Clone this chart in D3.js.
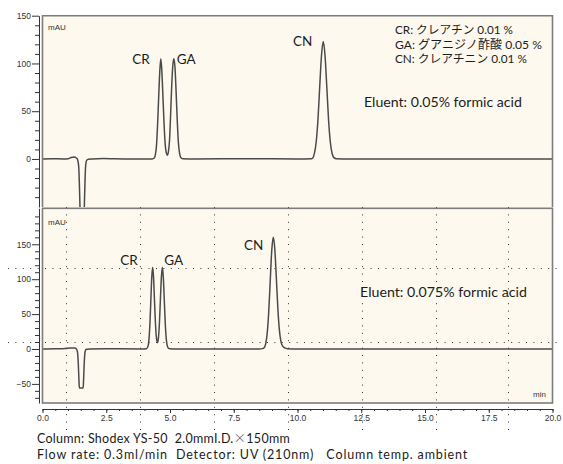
<!doctype html>
<html>
<head>
<meta charset="utf-8">
<script src="https://cdn.jsdelivr.net/npm/d3@7"></script>
<style>
html,body{margin:0;background:#fff;overflow:hidden;}
svg{display:block;}
.axis text{font-family:"Liberation Sans",Arial,sans-serif;font-size:8.5px;fill:#333;}
.axis path,.axis line{stroke:#333;stroke-width:1;}
.lbl{font-family:Lato,"Noto Sans CJK JP",sans-serif;fill:#1c1c1c;}
.small{font-family:"Liberation Sans",Arial,sans-serif;font-size:8px;fill:#333;}
</style>
</head>
<body>
<script>
// chromatogram traces: [time (min), signal (mAU)]
var topTrace = [
  [0,0],[0.4,0.3],[0.8,0],[1.0,0.3],[1.12,1.5],[1.24,2],[1.34,0.8],[1.38,-1],[1.42,-8],[1.45,-30],
  [1.47,-50],[1.5,-85],[1.53,-100],[1.58,-100],[1.61,-85],[1.64,-50],[1.66,-30],[1.69,-8],[1.73,-1.5],
  [1.8,-0.3],[1.95,0],[2.4,0.4],[2.8,0.2],[3.5,0],[4.3,0],[4.385,1],[4.43,5],[4.47,14],[4.51,34],
  [4.555,64],[4.6,92],[4.64,105],[4.68,92],[4.725,64],[4.77,35],[4.81,16],[4.85,7],[4.895,4],
  [4.94,8],[4.98,19],[5.015,40],[5.06,72],[5.105,96],[5.15,105],[5.195,96],[5.24,70],[5.285,40],
  [5.33,17],[5.375,6],[5.42,1.5],[5.5,0.2],[6,0],[8,0.3],[10,0],[10.55,0.3],[10.61,1.4],[10.66,5.5],
  [10.73,17],[10.8,40],[10.87,75],[10.94,108],[11.01,123],[11.08,108],[11.15,75],[11.22,40],
  [11.29,17],[11.36,5.5],[11.43,1.4],[11.52,0.3],[12,0],[20,0]
];
var bottomTrace = [
  [0,0],[0.5,0.3],[0.9,0.8],[1.1,1.5],[1.25,1.5],[1.33,0],[1.37,-4],[1.4,-18],[1.43,-45],[1.445,-56],
  [1.595,-56],[1.61,-45],[1.64,-18],[1.67,-4],[1.72,-0.5],[1.85,0],[2.5,0.5],[3,0.2],[3.9,0],
  [4.08,0.5],[4.145,5],[4.18,16],[4.215,38],[4.25,71],[4.285,103],[4.32,117],[4.355,103],[4.39,71],
  [4.425,40],[4.46,19],[4.51,9],[4.55,17],[4.5875,39],[4.625,72],[4.6625,103],[4.7,117],[4.7375,103],
  [4.775,71],[4.8125,38],[4.85,16],[4.8875,5.5],[4.93,1.5],[5,0.3],[5.3,0],[8.5,0],[8.62,0.5],
  [8.69,1.8],[8.75,7],[8.81,22],[8.87,52],[8.93,97],[8.99,141],[9.05,160],[9.11,143],[9.17,102],
  [9.23,58],[9.29,27],[9.35,11],[9.42,4],[9.5,1.5],[9.6,0.5],[10,0],[20,0]
];

var peakNames = ["CR", "GA", "CN"];
var topPeakTimes = [4.64, 5.15, 11.01];
var topPeakHeights = [105, 105, 123];
var bottomPeakTimes = [4.32, 4.70, 9.05];
var bottomPeakHeights = [117, 117, 160];

var legendLines = ["CR: クレアチン 0.01 %", "GA: グアニジノ酢酸 0.05 %", "CN: クレアチニン 0.01 %"];
var topEluent = "Eluent: 0.05% formic acid";
var bottomEluent = "Eluent: 0.075% formic acid";
var captionLine1 = ["Column: Shodex YS-50\u00a0\u00a02.0mmI.D.", "\u00d7", "150mm"];
var captionLine2 = "Flow rate: 0.3ml/min\u00a0\u00a0Detector: UV (210nm)\u00a0\u00a0\u00a0Column temp. ambient";

var xTicks = d3.range(0, 20.01, 2.5);
var yMajorTicks = [-50, 0, 50, 100, 150];
// dotted overlay grid (time, bottom-panel mAU)
var gridTimes = [0.94, 3.81, 6.72, 9.63, 12.53, 15.44, 18.27];
var gridLevels = [116, 10];

// layout
var W = 563, H = 464;
var left = 42.5, right = 552.5;
var top1 = 15.7, bot1 = 207, top2 = 208.3, bot2 = 403;
var cream = "#fdf9ee";

var svg = d3.select("body").append("svg").attr("width", W).attr("height", H);

var x = d3.scaleLinear().domain([0, 20]).range([left, right]);
var yTop = d3.scaleLinear().domain([-50.3, 150]).range([bot1, top1]);
var yBot = d3.scaleLinear().domain([-77.4, 201.6]).range([bot2, top2]);

// scale a text's font so that it spans the width seen in the picture
function fit(sel, size, width) {
  sel.attr("font-size", size);
  var w = sel.node().getComputedTextLength();
  sel.attr("font-size", size * width / w);
}
// keep the font size, spread the letters to the width seen in the picture
function spread(sel, size, width) {
  sel.attr("font-size", size);
  var w = sel.node().getComputedTextLength();
  var n = sel.text().length;
  sel.attr("letter-spacing", (width - w) / n);
}

var defs = svg.append("defs");
defs.append("clipPath").attr("id", "c1").append("rect")
  .attr("x", left).attr("y", top1).attr("width", right - left).attr("height", bot1 - top1);
defs.append("clipPath").attr("id", "c2").append("rect")
  .attr("x", left).attr("y", top2).attr("width", right - left).attr("height", bot2 - top2);

// panel backgrounds
svg.append("rect").attr("x", left).attr("y", top1).attr("width", right - left)
  .attr("height", bot1 - top1).attr("fill", cream);
svg.append("rect").attr("x", left).attr("y", top2).attr("width", right - left)
  .attr("height", bot2 - top2).attr("fill", cream);

// dotted grid
var grid = svg.append("g").attr("stroke", "#333").attr("stroke-width", 1)
  .attr("stroke-dasharray", "1,6.4");
grid.selectAll("line.v").data(gridTimes).enter().append("line")
  .attr("x1", function(d){ return Math.round(x(d)) + 0.5; })
  .attr("x2", function(d){ return Math.round(x(d)) + 0.5; })
  .attr("y1", 207).attr("y2", 430);
grid.selectAll("line.h").data(gridLevels).enter().append("line")
  .attr("x1", 8).attr("x2", W)
  .attr("y1", function(d){ return Math.round(yBot(d)) + 0.5; })
  .attr("y2", function(d){ return Math.round(yBot(d)) + 0.5; });

// traces
var lineTop = d3.line().x(function(d){ return x(d[0]); }).y(function(d){ return yTop(d[1]); })
  .curve(d3.curveMonotoneX);
var lineBot = d3.line().x(function(d){ return x(d[0]); }).y(function(d){ return yBot(d[1]); })
  .curve(d3.curveMonotoneX);

svg.append("path").datum(topTrace).attr("clip-path", "url(#c1)")
  .attr("d", lineTop).attr("fill", "none").attr("stroke", "#4a4a4a").attr("stroke-width", 1.5);
svg.append("path").datum(bottomTrace).attr("clip-path", "url(#c2)")
  .attr("d", lineBot).attr("fill", "none").attr("stroke", "#4a4a4a").attr("stroke-width", 1.5);

// frames (top panel is cut off at its bottom)
svg.append("path")
  .attr("d", "M" + left + "," + bot1 + "V" + top1 + "H" + right + "V" + bot1)
  .attr("fill", "none").attr("stroke", "#7c7c7c").attr("stroke-width", 1.6);
svg.append("rect").attr("x", left).attr("y", top2).attr("width", right - left)
  .attr("height", bot2 - top2).attr("fill", "none").attr("stroke", "#7c7c7c").attr("stroke-width", 1.6);

// y axes
function yAxes(scale, lo, hi) {
  svg.append("g").attr("class", "axis").attr("transform", "translate(39,0)")
    .call(d3.axisLeft(scale)
      .tickValues(yMajorTicks.filter(function(v){ return v >= lo && v <= hi; }))
      .tickSize(7).tickSizeOuter(0).tickPadding(1));
  var minor = d3.range(-70, 201, 10).filter(function(v){ return v % 50 !== 0 && v >= lo && v <= hi; });
  svg.append("g").attr("class", "axis").attr("transform", "translate(39,0)")
    .call(d3.axisLeft(scale).tickValues(minor).tickSize(4).tickFormat("").tickSizeOuter(0))
    .select(".domain").remove();
}
yAxes(yTop, -45, 150);
yAxes(yBot, -77.4, 201.6);

// x axis
svg.append("g").attr("class", "axis").attr("transform", "translate(0,409)")
  .call(d3.axisBottom(x).tickValues(xTicks).tickSize(4).tickSizeOuter(0).tickPadding(2)
    .tickFormat(d3.format(".1f")));
svg.append("g").attr("class", "axis").attr("transform", "translate(0,409)")
  .call(d3.axisBottom(x).tickValues(d3.range(0, 20.01, 0.5)).tickSize(2).tickFormat(""))
  .select(".domain").remove();

// unit labels
svg.append("text").attr("class", "small").attr("x", 48).attr("y", 30).text("mAU");
svg.append("text").attr("class", "small").attr("x", 48).attr("y", 225).text("mAU");
svg.append("text").attr("class", "small").attr("x", 546).attr("y", 397)
  .attr("text-anchor", "end").text("min");

// peak labels: [dx, dy, anchor] relative to the peak apex
var topLabelPos = [[-11, 5, "end"], [3, 5, "start"], [-11, 4.5, "end"]];
var botLabelPos = [[-15, -2, "end"], [2, -2, "start"], [-10, 12.5, "end"]];

svg.selectAll("text.pt").data(peakNames).enter().append("text").attr("class", "lbl")
  .attr("font-size", 13.5)
  .attr("x", function(d, i){ return x(topPeakTimes[i]) + topLabelPos[i][0]; })
  .attr("y", function(d, i){ return yTop(topPeakHeights[i]) + topLabelPos[i][1]; })
  .attr("text-anchor", function(d, i){ return topLabelPos[i][2]; })
  .text(function(d){ return d; });
svg.selectAll("text.pb").data(peakNames).enter().append("text").attr("class", "lbl")
  .attr("font-size", 13.5)
  .attr("x", function(d, i){ return x(bottomPeakTimes[i]) + botLabelPos[i][0]; })
  .attr("y", function(d, i){ return yBot(bottomPeakHeights[i]) + botLabelPos[i][1]; })
  .attr("text-anchor", function(d, i){ return botLabelPos[i][2]; })
  .text(function(d){ return d; });

// legend
var legendWidths = [118, 147, 132];
svg.selectAll("text.leg").data(legendLines).enter().append("text").attr("class", "lbl")
  .attr("x", 395)
  .attr("y", function(d, i){ return 34 + i * 14.5; })
  .text(function(d){ return d; })
  .each(function(d, i){ fit(d3.select(this), 11.5, legendWidths[i]); });

fit(svg.append("text").attr("class", "lbl").attr("x", 364).attr("y", 107).text(topEluent), 13, 158);
fit(svg.append("text").attr("class", "lbl").attr("x", 360).attr("y", 297).text(bottomEluent), 13, 167);

// caption
var cap1 = svg.append("text").attr("class", "lbl").attr("x", 37).attr("y", 442.5);
cap1.selectAll("tspan").data(captionLine1).enter().append("tspan")
  .attr("font-family", function(d, i){ return i === 1 ? "'Noto Sans CJK JP'" : null; })
  .attr("font-weight", function(d, i){ return i === 1 ? 300 : null; })
  .attr("fill", function(d, i){ return i === 1 ? "#555" : null; })
  .text(function(d){ return d; });
spread(cap1, 12.5, 253);
spread(svg.append("text").attr("class", "lbl").attr("x", 37).attr("y", 458.5).text(captionLine2), 12.5, 431);
</script>
</body>
</html>
